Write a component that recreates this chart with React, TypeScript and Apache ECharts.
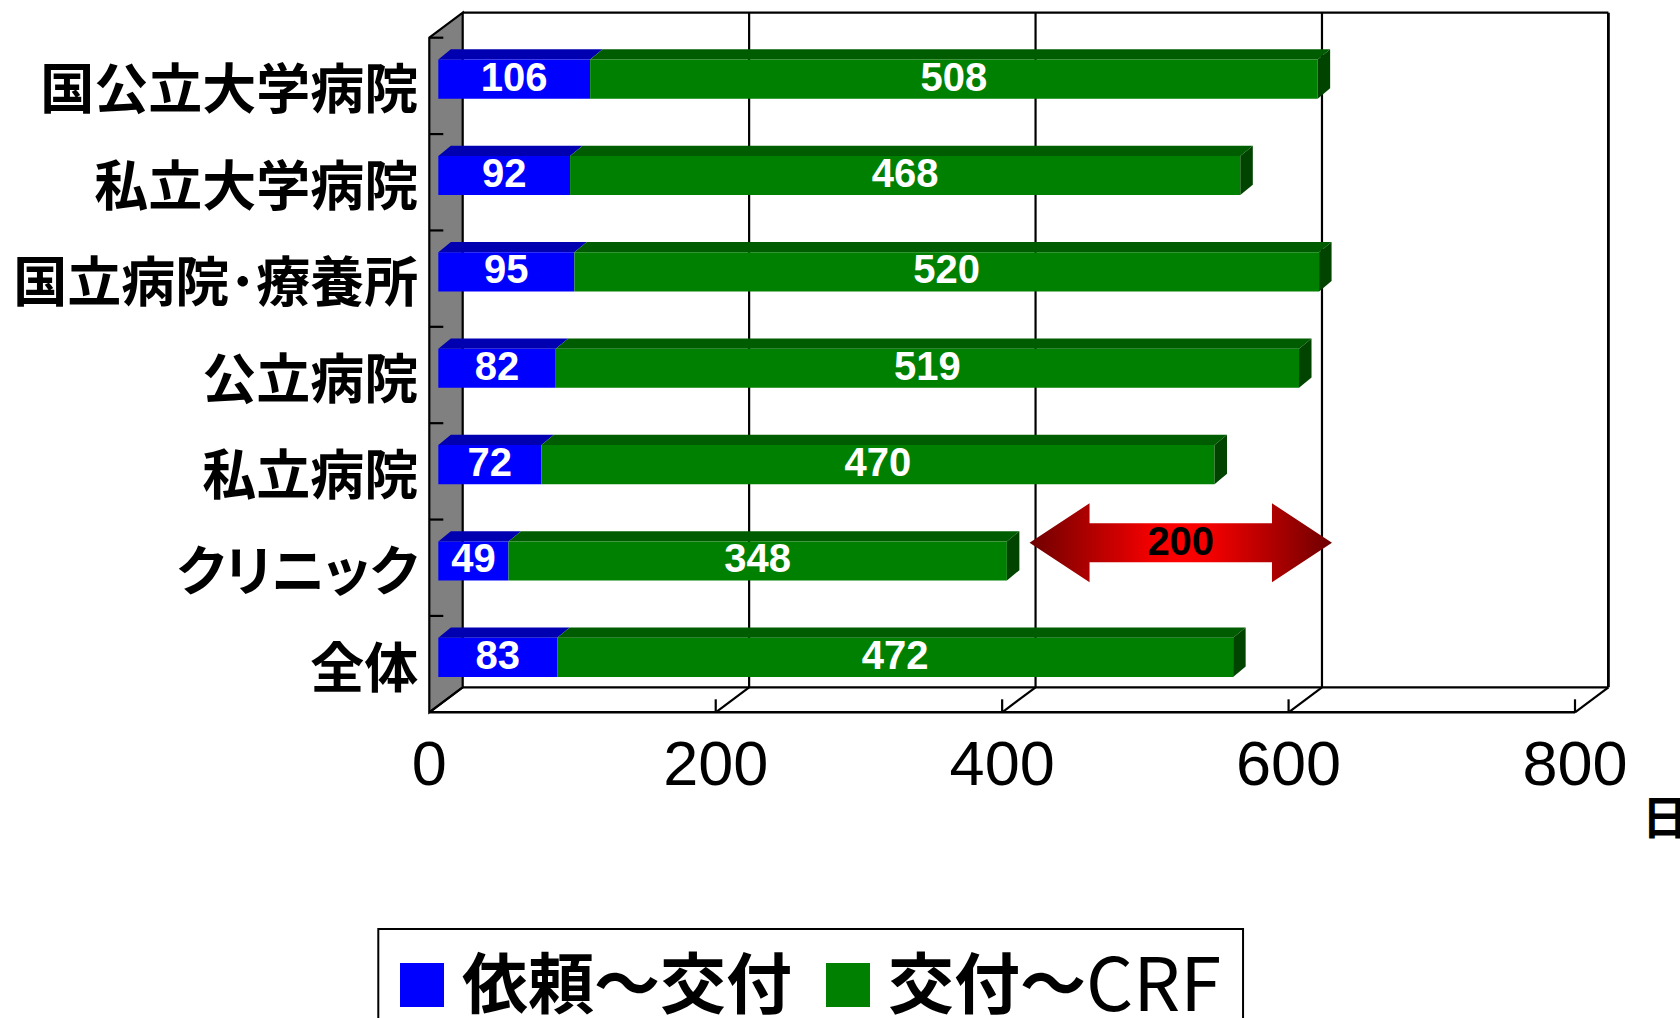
import { useEffect, useRef } from "react";
import * as echarts from "echarts";

// Facility types, top to bottom
const categories = [
  "国公立大学病院",
  "私立大学病院",
  "国立病院･療養所",
  "公立病院",
  "私立病院",
  "クリニック",
  "全体",
];
// Days from request to issue, and from issue to CRF
const requestToIssue = [106, 92, 95, 82, 72, 49, 83];
const issueToCrf = [508, 468, 520, 519, 470, 348, 472];
const seriesNames = ["依頼～交付", "交付～CRF"];
const xTicks = [0, 200, 400, 600, 800];
const unitLabel = "日";
// Gap annotation (double arrow) on the クリニック row
const gapFrom = 400;
const gapTo = 600;
const gapCategory = 5;

// Oblique 3-D box: depth offset of back wall relative to front plane
const WALL: [number, number] = [33.4, -25];
const BAR_FRONT = 0.27; // fraction of box depth where bar fronts sit
const BAR_DEPTH: [number, number] = [12.5, -10.3];
const BAR_RATIO = 0.405;

const CJK = '"Noto Sans CJK JP", "Noto Sans CJK SC", sans-serif';
const LATIN = '"Liberation Sans", Arial, sans-serif';

function renderFrame(_params: any, api: any) {
  const band = api.size([0, 1])[1];
  const nCat = categories.length;
  const xl = api.coord([xTicks[0], 0])[0];
  const xr = api.coord([xTicks[xTicks.length - 1], 0])[0];
  const yTop = api.coord([0, 0])[1] - band / 2;
  const yBot = api.coord([0, nCat - 1])[1] + band / 2;
  const [dx, dy] = WALL;
  const line = (x1: number, y1: number, x2: number, y2: number, w = 2.2) => ({
    type: "line",
    shape: { x1, y1, x2, y2 },
    style: { stroke: "#000", lineWidth: w },
  });
  const children: any[] = [];
  // grey side wall
  children.push({
    type: "polygon",
    shape: {
      points: [
        [xl, yTop],
        [xl + dx, yTop + dy],
        [xl + dx, yBot + dy],
        [xl, yBot],
      ],
    },
    style: { fill: "#808080", stroke: "#000", lineWidth: 2.2 },
  });
  // back wall top edge, back floor edge, front floor edge
  children.push(line(xl + dx, yTop + dy, xr + dx, yTop + dy));
  children.push(line(xl + dx, yBot + dy, xr + dx, yBot + dy));
  children.push(line(xl, yBot, xr, yBot, 2.6));
  xTicks.forEach((v, i) => {
    const xf = api.coord([v, 0])[0];
    if (i > 0) {
      children.push(
        line(xf + dx, yTop + dy, xf + dx, yBot + dy, i === xTicks.length - 1 ? 2.8 : 2.2)
      );
      children.push(line(xf, yBot, xf, yBot - 13));
    }
    children.push(line(xf, yBot, xf + dx, yBot + dy));
  });
  // category ticks on the side wall
  for (let i = 0; i < nCat; i++) {
    const y = yTop + i * band;
    children.push(line(xl, y, xl + 14, y));
  }
  return { type: "group", children };
}

function makeSegmentRenderer(front: string, top: string, side: string, withSide: boolean) {
  return (_params: any, api: any) => {
    const start = api.value(0);
    const end = api.value(1);
    const cat = api.value(2);
    const val = api.value(3);
    const band = api.size([0, 1])[1];
    const h = band * BAR_RATIO;
    const p0 = api.coord([start, cat]);
    const p1 = api.coord([end, cat]);
    const ox = WALL[0] * BAR_FRONT;
    const oy = WALL[1] * BAR_FRONT;
    const x0 = p0[0] + ox;
    const x1 = p1[0] + ox;
    const yT = p0[1] + oy - h / 2;
    const yB = yT + h;
    const [bdx, bdy] = BAR_DEPTH;
    const children: any[] = [
      {
        type: "polygon",
        shape: {
          points: [
            [x0, yT],
            [x1, yT],
            [x1 + bdx, yT + bdy],
            [x0 + bdx, yT + bdy],
          ],
        },
        style: { fill: top },
      },
      {
        type: "rect",
        shape: { x: x0, y: yT, width: x1 - x0, height: h },
        style: { fill: front },
      },
    ];
    if (withSide) {
      children.push({
        type: "polygon",
        shape: {
          points: [
            [x1, yT],
            [x1 + bdx, yT + bdy],
            [x1 + bdx, yB + bdy],
            [x1, yB],
          ],
        },
        style: { fill: side },
      });
    }
    children.push({
      type: "text",
      style: {
        text: String(val),
        x: (x0 + x1) / 2,
        y: (yT + yB) / 2 - 2.5,
        align: "center",
        verticalAlign: "middle",
        fill: "#fff",
        fontSize: 40,
        fontWeight: "bold",
        fontFamily: LATIN,
      },
    });
    return { type: "group", children };
  };
}

function renderGap(_params: any, api: any) {
  const from = api.value(0);
  const to = api.value(1);
  const cat = api.value(2);
  const a = api.coord([from, cat]);
  const b = api.coord([to, cat]);
  const xl = a[0] + WALL[0] - 6;
  const xr = b[0] + WALL[0] + 10;
  const yc = a[1] + WALL[1];
  const head = 60;
  const hh = 39.5;
  const sh = 19.5;
  return {
    type: "group",
    children: [
      {
        type: "polygon",
        shape: {
          points: [
            [xl, yc],
            [xl + head, yc - hh],
            [xl + head, yc - sh],
            [xr - head, yc - sh],
            [xr - head, yc - hh],
            [xr, yc],
            [xr - head, yc + hh],
            [xr - head, yc + sh],
            [xl + head, yc + sh],
            [xl + head, yc + hh],
          ],
        },
        style: {
          fill: new echarts.graphic.LinearGradient(0, 0, 1, 0, [
            { offset: 0, color: "#6e0000" },
            { offset: 0.2, color: "#b00000" },
            { offset: 0.4, color: "#f20000" },
            { offset: 0.5, color: "#ff0000" },
            { offset: 0.6, color: "#f20000" },
            { offset: 0.8, color: "#b00000" },
            { offset: 1, color: "#6e0000" },
          ]),
        },
      },
      {
        type: "text",
        style: {
          text: String(to - from),
          x: (xl + xr) / 2,
          y: yc - 1.5,
          align: "center",
          verticalAlign: "middle",
          fill: "#000",
          fontSize: 40,
          fontWeight: "bold",
          fontFamily: LATIN,
        },
      },
    ],
  };
}

// proportional kana widths for the category labels (54px texts only)
const labelCss = 'svg text[style*="54px"] { font-feature-settings: "palt" 1; }';

export default function App() {
  const ref = useRef<HTMLDivElement>(null);

  useEffect(() => {
    if (!ref.current) return;
    const chart = echarts.init(ref.current, null, { renderer: "svg" });

    const blueData = requestToIssue.map((v, i) => [0, v, i, v]);
    const greenData = issueToCrf.map((v, i) => [
      requestToIssue[i],
      requestToIssue[i] + v,
      i,
      v,
    ]);

    chart.setOption({
      animation: false,
      backgroundColor: "#fff",
      grid: {
        left: 429.3,
        top: 37.7,
        width: 1145.7,
        height: 674.6,
        outerBoundsMode: "none",
      },
      xAxis: {
        type: "value",
        min: 0,
        max: 800,
        interval: 200,
        splitLine: { show: false },
        axisLine: { show: false },
        axisTick: { show: false },
        axisLabel: {
          fontSize: 63,
          fontFamily: LATIN,
          color: "#000",
          margin: 19,
        },
      },
      yAxis: {
        type: "category",
        data: categories,
        inverse: true,
        axisLine: { show: false },
        axisTick: { show: false },
        splitLine: { show: false },
        axisLabel: {
          fontSize: 54,
          fontWeight: "bold",
          fontFamily: CJK,
          color: "#000",
          margin: 11,
        },
      },
      legend: {
        data: seriesNames,
        left: 378.3,
        top: 929,
        orient: "horizontal",
        icon: "rect",
        itemWidth: 44,
        itemHeight: 44,
        itemGap: 34,
        padding: [13, 22, 30, 21.7],
        borderColor: "#000",
        borderWidth: 2,
        borderRadius: 0,
        selectedMode: false,
        formatter: (name: string) =>
          name.endsWith("CRF")
            ? `{b|${name.slice(0, -3)}}{c|CRF}`
            : `{b|${name}}`,
        textStyle: {
          padding: [0, 0, 0, 13],
          rich: {
            b: {
              fontSize: 66,
              lineHeight: 66,
              padding: [0, 0, 12, 0],
              fontWeight: "bold",
              fontFamily: CJK,
              color: "#000",
            },
            c: {
              fontSize: 74,
              lineHeight: 66,
              padding: [0, 0, 12, 0],
              fontWeight: "normal",
              fontFamily: CJK,
              color: "#000",
            },
          },
        },
      },
      graphic: [
        {
          type: "text",
          left: 1642,
          top: 791,
          style: {
            text: unitLabel,
            fontSize: 46,
            fontWeight: "bold",
            fontFamily: CJK,
            fill: "#000",
          },
        },
      ],
      series: [
        {
          type: "custom",
          name: "frame",
          z: 1,
          silent: true,
          clip: false,
          renderItem: renderFrame,
          data: [[0, 0]],
          encode: { x: 0, y: 1 },
        },
        {
          type: "custom",
          name: seriesNames[0],
          z: 2,
          clip: false,
          itemStyle: { color: "#0000FF" },
          renderItem: makeSegmentRenderer("#0000FF", "#0000B0", "#000080", false),
          data: blueData,
          encode: { x: [0, 1], y: 2 },
        },
        {
          type: "custom",
          name: seriesNames[1],
          z: 2,
          clip: false,
          itemStyle: { color: "#008000" },
          renderItem: makeSegmentRenderer("#008000", "#005C00", "#004400", true),
          data: greenData,
          encode: { x: [0, 1], y: 2 },
        },
        {
          type: "custom",
          name: "gap",
          z: 3,
          silent: true,
          clip: false,
          renderItem: renderGap,
          data: [[gapFrom, gapTo, gapCategory]],
          encode: { x: [0, 1], y: 2 },
        },
      ],
    });

    return () => chart.dispose();
  }, []);

  return (
    <>
      <style>{labelCss}</style>
      <div
        ref={ref}
        style={{ position: "fixed", left: 0, top: 0, width: 1680, height: 1018 }}
      />
    </>
  );
}
